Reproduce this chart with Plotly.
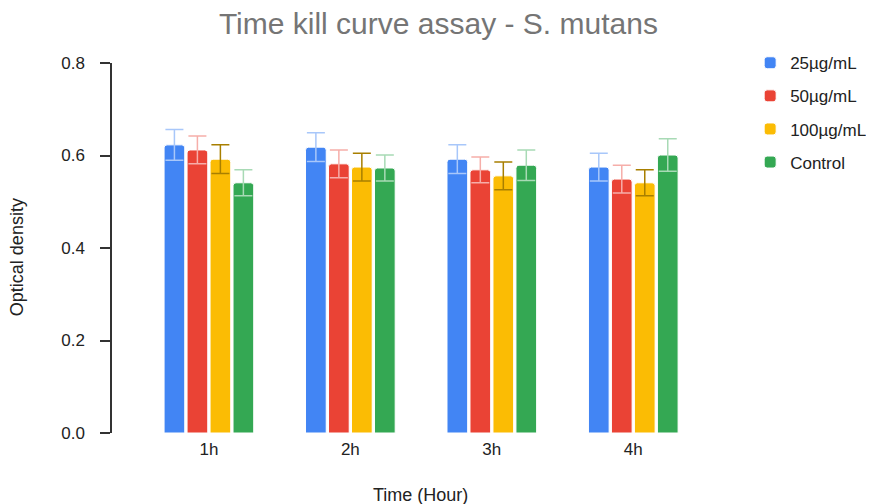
import plotly.graph_objects as go

categories = ["1h", "2h", "3h", "4h"]
series_names = ["25µg/mL", "50µg/mL", "100µg/mL", "Control"]
v25 = [0.623, 0.618, 0.592, 0.575]
v50 = [0.612, 0.582, 0.569, 0.549]
v100 = [0.592, 0.575, 0.556, 0.541]
vctl = [0.541, 0.573, 0.579, 0.601]
e25 = [0.033, 0.031, 0.031, 0.030]
e50 = [0.030, 0.030, 0.028, 0.030]
e100 = [0.031, 0.030, 0.030, 0.028]
ectl = [0.028, 0.028, 0.033, 0.035]

colors = ["#4285F4", "#EA4335", "#FBBC04", "#34A853"]
err_colors = ["#A8C7FA", "#F6AEA9", "#A87F00", "#A8DAB5"]

fig = go.Figure()
for name, vals, errs, c, ec in zip(series_names, [v25, v50, v100, vctl],
                                   [e25, e50, e100, ectl], colors, err_colors):
    fig.add_trace(go.Bar(
        x=categories, y=vals, name=name, legendgroup=name,
        marker=dict(color=c, line=dict(color="white", width=1), cornerradius=3),
        error_y=dict(type="data", array=errs, visible=True, color=ec,
                     thickness=1.5, width=9),
    ))

# page body has an 8px margin, so the figure is sized to fit the window
fig.update_layout(
    width=866, height=496,
    paper_bgcolor="white", plot_bgcolor="white",
    font=dict(family="Liberation Sans, Arial, sans-serif", size=17, color="#222222"),
    title=dict(text="Time kill curve assay - S. mutans", x=0.497, xanchor="center",
               y=0.968, yanchor="middle",
               font=dict(size=30, color="#757575")),
    barmode="group", bargap=0.35, bargroupgap=0.1,
    margin=dict(l=104, r=170, t=55, b=71),
    showlegend=True,
    legend=dict(xref="container", yref="container", x=0.857, y=0.925,
                xanchor="left", yanchor="top", traceorder="grouped",
                tracegroupgap=8, font=dict(size=17, color="#222222"),
                itemwidth=30),
    xaxis=dict(range=[-0.685, 3.5], showline=False, showgrid=False, ticks="",
               zeroline=False, automargin=False,
               tickfont=dict(size=17), ticklabelstandoff=4),
    yaxis=dict(range=[0, 0.8], tickvals=[0, 0.2, 0.4, 0.6, 0.8], tickformat=".1f",
               showline=True, linecolor="#333333", linewidth=1.5,
               ticks="outside", ticklen=10, tickcolor="#333333", tickwidth=1.5,
               ticklabelstandoff=12, automargin=False,
               tickfont=dict(size=17),
               showgrid=False, zeroline=False),
    annotations=[
        dict(text="Time (Hour)", xref="paper", yref="paper", x=0.521, y=-0.168,
             xanchor="center", yanchor="middle", showarrow=False,
             font=dict(size=18, color="#222222")),
        dict(text="Optical density", xref="paper", yref="paper", x=-0.16, y=0.476,
             xanchor="center", yanchor="middle", textangle=-90, showarrow=False,
             font=dict(size=18, color="#222222")),
    ],
)

fig.write_html("out.html")
